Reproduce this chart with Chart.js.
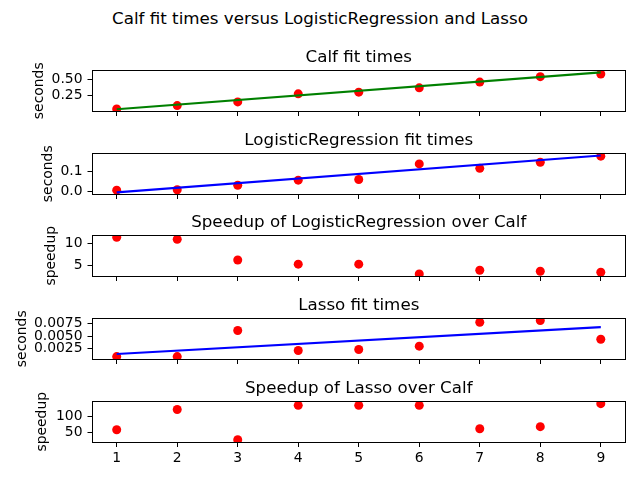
<!DOCTYPE html>
<html>
<head>
<meta charset="utf-8">
<script src="https://cdn.jsdelivr.net/npm/chart.js@4"></script>
<style>
body { margin:0; width:640px; height:480px; background:#fff; position:relative; overflow:hidden; font-family:"DejaVu Sans"; }
#suptitle { position:absolute; top:8px; left:0; width:640px; line-height:20px; text-align:center; font-size:16.7px; color:#000; }
canvas { position:absolute; left:0; }
</style>
</head>
<body>
<div id="suptitle">Calf fit times versus LogisticRegression and Lasso</div>
<script>
// values
const xValues = [1, 2, 3, 4, 5, 6, 7, 8, 9];
const xTicks = [1, 2, 3, 4, 5, 6, 7, 8, 9];
const fitX = [1, 9];

const calfTimes = [0.051, 0.102, 0.158, 0.281, 0.306, 0.372, 0.459, 0.541, 0.582];
const calfFit = [0.046, 0.607];
const calfTicks = [0.25, 0.50];
const calfTickLabels = ['0.25', '0.50'];

const lrTimes = [0.008, 0.010, 0.032, 0.057, 0.060, 0.137, 0.115, 0.145, 0.175];
const lrFit = [-0.003, 0.178];
const lrTicks = [0.0, 0.1];
const lrTickLabels = ['0.0', '0.1'];

const lrSpeedup = [11.46, 11.0, 6.31, 5.38, 5.38, 3.15, 4.0, 3.77, 3.54];
const lrSpeedTicks = [5, 10];
const lrSpeedTickLabels = ['5', '10'];

const lassoTimes = [0.00097, 0.00097, 0.00613, 0.00217, 0.00237, 0.00303, 0.00777, 0.0081, 0.0044];
const lassoFit = [0.0015, 0.0068];
const lassoTicks = [0.0025, 0.0050, 0.0075];
const lassoTickLabels = ['0.0025', '0.0050', '0.0075'];

const lassoSpeedup = [59.2, 119.4, 29.6, 131.6, 131.6, 131.6, 62.2, 68.4, 136.7];
const lassoSpeedTicks = [50, 100];
const lassoSpeedTickLabels = ['50', '100'];

const toPts = (xs, ys) => xs.map((x, i) => ({x: x, y: ys[i]}));

const panels = [
    {title:'Calf fit times', ylabel:'seconds', pts:calfTimes, fit:calfFit, fitColor:'#008000',
     ticks:calfTicks, labels:calfTickLabels, min:0.02, max:0.635, top:40, labelPad:30.7},
    {title:'LogisticRegression fit times', ylabel:'seconds', pts:lrTimes, fit:lrFit, fitColor:'#0000ff',
     ticks:lrTicks, labels:lrTickLabels, min:-0.011, max:0.188, top:123, labelPad:39.7},
    {title:'Speedup of LogisticRegression over Calf', ylabel:'speedup', pts:lrSpeedup, fit:null,
     ticks:lrSpeedTicks, labels:lrSpeedTickLabels, min:2.7, max:11.85, top:205, labelPad:42.7},
    {title:'Lasso fit times', ylabel:'seconds', pts:lassoTimes, fit:lassoFit, fitColor:'#0000ff',
     ticks:lassoTicks, labels:lassoTickLabels, min:0.0005, max:0.0085, top:288, labelPad:13.7},
    {title:'Speedup of Lasso over Calf', ylabel:'speedup', pts:lassoSpeedup, fit:null,
     ticks:lassoSpeedTicks, labels:lassoSpeedTickLabels, min:23, max:143, top:371, labelPad:33.7}
];

Chart.defaults.font.family = 'DejaVu Sans';
Chart.defaults.color = '#000';

// axes box on all four sides
const framePlugin = {
    id:'frame',
    afterDraw(chart) {
        const {ctx, chartArea:a} = chart;
        ctx.save();
        ctx.strokeStyle = '#000';
        ctx.lineWidth = 1;
        const l = Math.floor(a.left) + 0.5, t = Math.floor(a.top) + 0.5;
        const r = Math.floor(a.right) + 0.5, b = Math.floor(a.bottom) + 0.5;
        ctx.strokeRect(l, t, r - l, b - t);
        ctx.restore();
    }
};

panels.forEach((p, k) => {
    const last = k === panels.length - 1;
    const h = last ? 480 - p.top : 80;
    const cv = document.createElement('canvas');
    cv.width = 640;
    cv.height = h;
    cv.style.top = p.top + 'px';
    document.body.appendChild(cv);

    const datasets = [];
    if (p.fit) {
        datasets.push({
            data: toPts(fitX, p.fit),
            showLine: true,
            borderColor: p.fitColor,
            borderWidth: 2.1,
            pointRadius: 0,
            clip: 0
        });
    }
    datasets.push({
        data: toPts(xValues, p.pts),
        showLine: false,
        pointRadius: 4.5,
        pointBackgroundColor: '#ff0000',
        pointBorderWidth: 0,
        clip: 0
    });

    new Chart(cv, {
        type:'scatter',
        data:{ datasets: datasets },
        options:{
            responsive:false,
            animation:false,
            events:[],
            layout:{ padding:{left:0, right:15, top:0, bottom:0}, autoPadding:false },
            plugins:{
                legend:{display:false},
                tooltip:{enabled:false},
                title:{
                    display:true,
                    text:p.title,
                    fullSize:false,
                    font:{size:16.7, weight:'normal'},
                    padding:{top:8, bottom:2.46}
                }
            },
            scales:{
                x:{
                    type:'linear',
                    min:0.6, max:9.4,
                    afterBuildTicks: s => { s.ticks = xTicks.map(v => ({value:v})); },
                    afterFit: s => { s.height = h - 71; s.paddingLeft = 0; s.paddingRight = 0; },
                    ticks:{display:last, font:{size:13.9}, padding:3},
                    grid:{drawOnChartArea:false, drawTicks:true, tickLength:5, color:'#000', lineWidth:1},
                    border:{display:false}
                },
                y:{
                    min:p.min, max:p.max,
                    afterBuildTicks: s => { s.ticks = p.ticks.map(v => ({value:v})); },
                    afterFit: s => { s.width = 92.5; s.paddingTop = 0; s.paddingBottom = 0; },
                    ticks:{
                        font:{size:13.9}, padding:5,
                        callback: (v) => p.labels[p.ticks.indexOf(v)]
                    },
                    grid:{drawOnChartArea:false, drawTicks:true, tickLength:5, color:'#000', lineWidth:1},
                    border:{display:false},
                    title:{display:true, text:p.ylabel, font:{size:13.9}, padding:{top:p.labelPad, bottom:0}}
                }
            }
        },
        plugins:[framePlugin]
    });
});
</script>
</body>
</html>
